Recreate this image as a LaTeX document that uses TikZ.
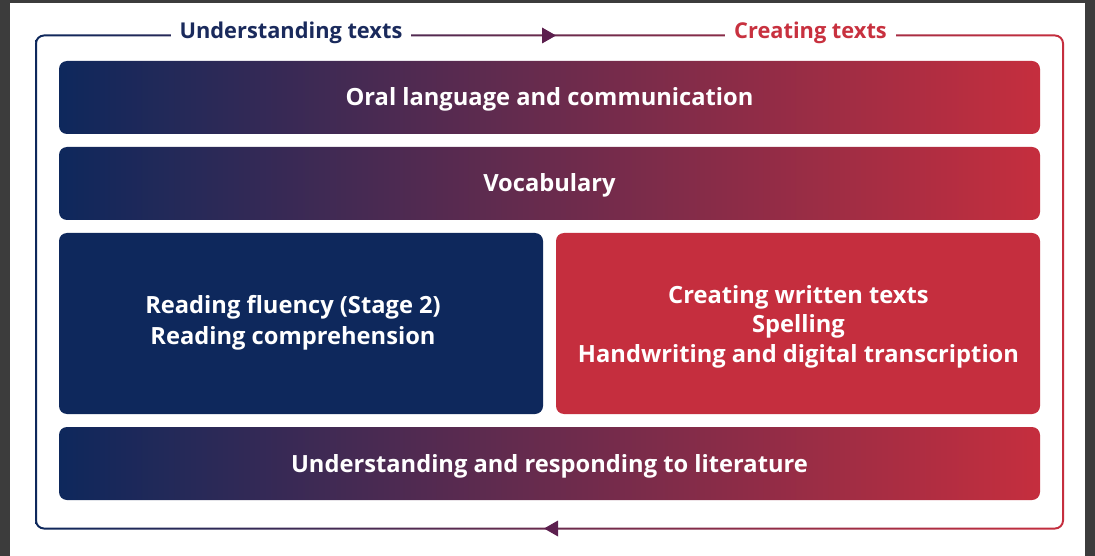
\documentclass[tikz,border=0pt]{standalone}
\usepackage{fontspec}
\IfFontExistsTF{Open Sans SemiBold}{\setmainfont{Open Sans}[BoldFont={Open Sans SemiBold}]}{\setmainfont{Open Sans}}
\definecolor{bgdark}{RGB}{60,60,60}
\definecolor{navy}{RGB}{14,40,92}
\definecolor{plum}{RGB}{84,28,80}
\definecolor{crimson}{RGB}{197,46,62}
\definecolor{navytxt}{RGB}{26,42,92}
\definecolor{redtxt}{RGB}{200,49,63}
\definecolor{arrowc}{RGB}{92,31,78}
\tikzset{
  gbox/.style={rounded corners=8pt, inner sep=0pt, left color=navy, middle color=plum, right color=crimson},
  solidbox/.style={rounded corners=8pt, inner sep=0pt},
  lbl/.style={text=white, font=\bfseries\fontsize{23.7}{28}\selectfont, inner sep=0pt, anchor=base},
  ttl/.style={font=\bfseries\fontsize{21.8}{26}\selectfont, fill=white, inner xsep=9pt, inner ysep=3pt, anchor=base},
}
\begin{document}
\begin{tikzpicture}[x=1pt,y=-1pt]
\fill[bgdark] (0,0) rectangle (1095,556);
\fill[white] (10,3) rectangle (1085,556);
\useasboundingbox (0,0) rectangle (1095,556);
% gradient frame
\shade[left color=navy, middle color=plum, right color=crimson, even odd rule]
  [rounded corners=9pt] (35,34.5) rectangle (1064,529.5)
  [rounded corners=7pt] (37,36.5) rectangle (1062,527.5);
% titles
\node[ttl, text=navytxt] (undt) at (291,39) {Understanding texts};
\node[ttl, text=redtxt] (cret) at (810.5,39) {Creating texts};
% arrowheads on the frame
\coordinate (toptip) at (556,35.5);
\coordinate (bottip) at (544,528.5);
\fill[arrowc] (toptip) -- ++(-14,-8) -- ++(0,16) -- cycle;
\fill[arrowc] (bottip) -- ++(14,-8) -- ++(0,16) -- cycle;
% boxes
\node[gbox, minimum width=981pt, minimum height=73pt] (oral) at (549.5,97.5) {};
\node[gbox, minimum width=981pt, minimum height=73pt] (vocab) at (549.5,183.5) {};
\node[solidbox, fill=navy, minimum width=484pt, minimum height=181pt] (read) at (301,323.5) {};
\node[solidbox, fill=crimson, minimum width=484pt, minimum height=181pt] (create) at (798,323.5) {};
\node[gbox, minimum width=981pt, minimum height=73pt] (lit) at (549.5,463.5) {};
% labels
\node[lbl] (oralt) at (549.5,106) {Oral language and communication};
\node[lbl] (vocabt) at (549.5,192) {Vocabulary};
\node[lbl] (readt1) at (293,313) {Reading fluency (Stage 2)};
\node[lbl] (readt2) at (293,344) {Reading comprehension};
\node[lbl] (createt1) at (798.5,303) {Creating written texts};
\node[lbl] (createt2) at (798.5,332) {Spelling};
\node[lbl] (createt3) at (798.5,362) {Handwriting and digital transcription};
\node[lbl] (litt) at (549.5,472) {Understanding and responding to literature};
\end{tikzpicture}
\end{document}
